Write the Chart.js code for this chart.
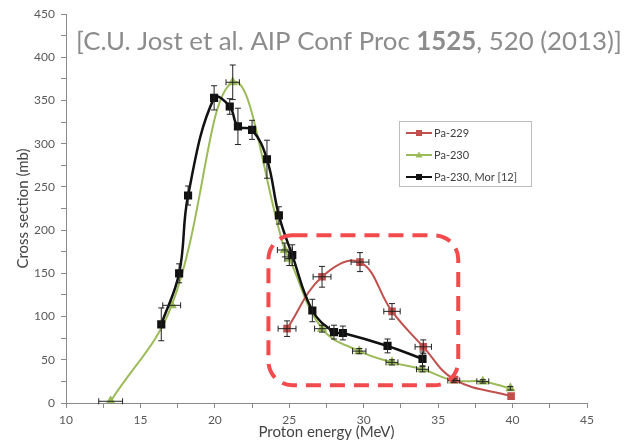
<!DOCTYPE html>
<html>
<head>
  <title>Pa cross sections</title>
  <script src="https://cdn.jsdelivr.net/npm/chart.js@4.4.1/dist/chart.umd.min.js"></script>
  <style>
    body { margin: 0; background: #fff; }
  </style>
</head>
<body>
  <canvas id="chart" width="626" height="441"></canvas>

  <script>
    // Pa-229
    const pa229X = [24.85, 27.2, 29.75, 31.9, 34.0, 36.1, 39.9];
    const pa229Y = [86, 146, 163, 106, 65, 27, 8];
    const pa229YErr = [9, 12, 11, 9, 8, 0, 0];
    const pa229XErr = [0.6, 0.6, 0.6, 0.55, 0.55, 0, 0];

    // Pa-230
    const pa230X = [13.0, 17.1, 21.2, 24.7, 25.0, 27.2, 29.7, 31.9, 33.95, 36.05, 38.0, 39.85];
    const pa230Y = [2, 113, 371, 177, 167, 86, 60, 47, 39, 26, 25, 17];
    const pa230YErr = [0, 0, 20, 8, 8, 4, 3, 3, 3, 2, 2, 2];
    const pa230XErr = [0.8, 0.6, 0.45, 0.5, 0.3, 0.5, 0.45, 0.4, 0.4, 0.4, 0.4, 0];

    // Pa-230, Mor [12]
    const morX = [16.4, 17.6, 18.2, 19.95, 21.0, 21.55, 22.5, 23.5, 24.3, 25.2, 26.55, 28.0, 28.6, 31.6, 33.95];
    const morY = [91, 150, 240, 353, 343, 320, 316, 282, 217, 171, 107, 82, 81, 66, 51];
    const morYErr = [19, 11, 11, 14, 9, 21, 11, 22, 10, 12, 13, 8, 8, 8, 8];

    const xTicks = [10, 15, 20, 25, 30, 35, 40, 45];
    const yTicks = [0, 50, 100, 150, 200, 250, 300, 350, 400, 450];

    // highlighted region (data coordinates)
    const boxX = [23.6, 36.35];
    const boxY = [20.5, 194];

    const titleParts = [
      { text: '[C.U. Jost et al. AIP Conf Proc ', bold: false },
      { text: '1525', bold: true },
      { text: ', 520 (2013)]', bold: false }
    ];

    const toPoints = (xs, ys) => xs.map((x, i) => ({ x: x, y: ys[i] }));

    const RED = '#c0504d';
    const GREEN = '#9bbb59';
    const BLACK = '#111111';

    // error bars with caps
    const errorBars = {
      id: 'errorBars',
      afterDatasetsDraw(chart) {
        const ctx = chart.ctx;
        const xs = chart.scales.x, ys = chart.scales.y;
        ctx.save();
        ctx.strokeStyle = '#222';
        ctx.lineWidth = 1;
        const seg = (a, b, c, d) => { ctx.beginPath(); ctx.moveTo(a, b); ctx.lineTo(c, d); ctx.stroke(); };
        chart.data.datasets.forEach(ds => {
          ds.data.forEach((p, i) => {
            const px = xs.getPixelForValue(p.x);
            const py = ys.getPixelForValue(p.y);
            const ye = ds.yErr ? ds.yErr[i] : 0;
            const xe = ds.xErr ? ds.xErr[i] : 0;
            if (ye) {
              const t = ys.getPixelForValue(p.y + ye), b = ys.getPixelForValue(p.y - ye);
              seg(px, t, px, b);
              seg(px - 3, t, px + 3, t);
              seg(px - 3, b, px + 3, b);
            }
            if (xe) {
              const l = xs.getPixelForValue(p.x - xe), r = xs.getPixelForValue(p.x + xe);
              seg(l, py, r, py);
              seg(l, py - 3, l, py + 3);
              seg(r, py - 3, r, py + 3);
            }
          });
        });
        ctx.restore();
      }
    };

    // dashed red rounded box, legend and citation
    const overlay = {
      id: 'overlay',
      afterDraw(chart) {
        const ctx = chart.ctx;
        const xs = chart.scales.x, ys = chart.scales.y;

        // dashed box
        const l = xs.getPixelForValue(boxX[0]), r = xs.getPixelForValue(boxX[1]);
        const t = ys.getPixelForValue(boxY[1]), b = ys.getPixelForValue(boxY[0]);
        const rad = 24;
        ctx.save();
        ctx.strokeStyle = '#f24a4d';
        ctx.lineWidth = 4;
        ctx.setLineDash([15, 9]);
        ctx.beginPath();
        ctx.moveTo(l + rad, t);
        ctx.arcTo(r, t, r, b, rad);
        ctx.arcTo(r, b, l, b, rad);
        ctx.arcTo(l, b, l, t, rad);
        ctx.arcTo(l, t, r, t, rad);
        ctx.closePath();
        ctx.stroke();
        ctx.restore();

        // legend
        ctx.save();
        ctx.fillStyle = '#fff';
        ctx.strokeStyle = '#bdbdbd';
        ctx.lineWidth = 1;
        ctx.fillRect(399.5, 121.5, 132, 65);
        ctx.strokeRect(399.5, 121.5, 132, 65);
        const rows = [133, 155, 177];
        chart.data.datasets.forEach((ds, i) => {
          const y = rows[i];
          ctx.strokeStyle = ds.borderColor;
          ctx.lineWidth = 2;
          ctx.beginPath();
          ctx.moveTo(406, y);
          ctx.lineTo(432, y);
          ctx.stroke();
          ctx.fillStyle = ds.pointBackgroundColor;
          if (ds.pointStyle === 'triangle') {
            ctx.beginPath();
            ctx.moveTo(419, y - 3.5);
            ctx.lineTo(422.5, y + 2.5);
            ctx.lineTo(415.5, y + 2.5);
            ctx.closePath();
            ctx.fill();
          } else {
            ctx.fillRect(416, y - 3, 6, 6);
          }
          ctx.fillStyle = '#404040';
          ctx.font = '11px Lato, "Open Sans", sans-serif';
          ctx.textBaseline = 'middle';
          ctx.fillText(ds.label, 434, y + 0.5);
        });
        ctx.restore();

        // citation
        ctx.save();
        const size = 25;
        const fam = 'Lato, "Open Sans", sans-serif';
        let w = 0;
        titleParts.forEach(p => {
          ctx.font = (p.bold ? '700 ' : '400 ') + size + 'px ' + fam;
          w += ctx.measureText(p.text).width;
        });
        const k = 546 / w;
        let x = 76;
        ctx.fillStyle = '#8c8c8c';
        ctx.textBaseline = 'alphabetic';
        titleParts.forEach(p => {
          ctx.font = (p.bold ? '700 ' : '400 ') + (size * k).toFixed(2) + 'px ' + fam;
          ctx.fillText(p.text, x, 50);
          x += ctx.measureText(p.text).width;
        });
        ctx.restore();
      }
    };

    const axisColor = '#8a8a8a';
    const tickFont = { family: 'Lato, "Open Sans", sans-serif', size: 12 };
    const titleFont = { family: 'Lato, "Open Sans", sans-serif', size: 15 };

    new Chart(document.getElementById('chart'), {
      type: 'scatter',
      data: {
        datasets: [
          {
            label: 'Pa-229',
            data: toPoints(pa229X, pa229Y),
            yErr: pa229YErr,
            xErr: pa229XErr,
            showLine: true,
            tension: 0.4,
            borderColor: RED,
            borderWidth: 2,
            pointStyle: 'rect',
            pointRadius: 4,
            pointBackgroundColor: RED,
            pointBorderColor: RED,
            order: 2
          },
          {
            label: 'Pa-230',
            data: toPoints(pa230X, pa230Y),
            yErr: pa230YErr,
            xErr: pa230XErr,
            showLine: true,
            tension: 0.4,
            borderColor: GREEN,
            borderWidth: 2,
            pointStyle: 'triangle',
            pointRadius: 4,
            pointBackgroundColor: GREEN,
            pointBorderColor: GREEN,
            order: 3
          },
          {
            label: 'Pa-230, Mor [12]',
            data: toPoints(morX, morY),
            yErr: morYErr,
            showLine: true,
            tension: 0.4,
            borderColor: BLACK,
            borderWidth: 2.5,
            pointStyle: 'rect',
            pointRadius: 4,
            pointBackgroundColor: BLACK,
            pointBorderColor: BLACK,
            order: 1
          }
        ]
      },
      options: {
        responsive: false,
        animation: false,
        layout: { padding: { top: 14, right: 39, left: 0, bottom: 0 } },
        plugins: {
          legend: { display: false },
          tooltip: { enabled: false }
        },
        scales: {
          x: {
            type: 'linear',
            min: xTicks[0],
            max: xTicks[xTicks.length - 1],
            afterFit: s => { s.height = 38; },
            ticks: {
              stepSize: 2.5,
              autoSkip: false,
              maxRotation: 0,
              padding: 5,
              color: '#595959',
              font: tickFont,
              callback: v => (xTicks.includes(v) ? v : '')
            },
            grid: { drawOnChartArea: false, tickLength: 5, color: axisColor },
            border: { color: axisColor },
            title: {
              display: true,
              text: 'Proton energy (MeV)',
              color: '#454545',
              font: titleFont,
              padding: { top: 0, bottom: 0 }
            }
          },
          y: {
            type: 'linear',
            min: yTicks[0],
            max: yTicks[yTicks.length - 1],
            afterFit: s => { s.width = 66; },
            ticks: {
              stepSize: 25,
              autoSkip: false,
              padding: 6,
              color: '#595959',
              font: tickFont,
              callback: v => (yTicks.includes(v) ? v : '')
            },
            grid: { drawOnChartArea: false, tickLength: 5, color: axisColor },
            border: { color: axisColor },
            title: {
              display: true,
              text: 'Cross section (mb)',
              color: '#454545',
              font: titleFont,
              padding: { top: 14, bottom: 0 }
            }
          }
        }
      },
      plugins: [errorBars, overlay]
    });
  </script>
</body>
</html>
